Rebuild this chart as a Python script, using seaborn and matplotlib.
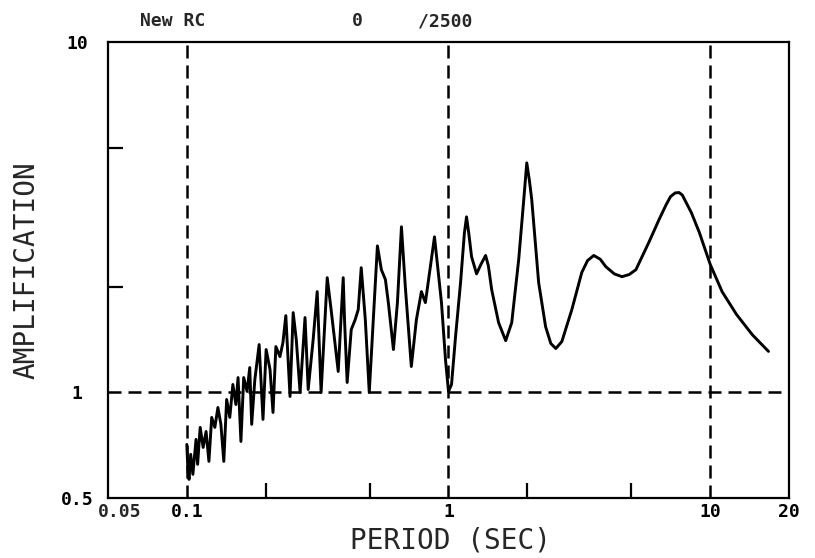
import matplotlib
matplotlib.use("Agg")
import matplotlib.pyplot as plt
import pandas as pd
import seaborn as sns
from matplotlib.ticker import FixedLocator, NullFormatter

# Site amplification spectrum (period in seconds)
period = [
    0.100, 0.101, 0.102, 0.1035, 0.1055, 0.1085, 0.110, 0.1125, 0.1155, 0.1185,
    0.1215, 0.1245, 0.128, 0.1315, 0.135, 0.1385, 0.142, 0.146, 0.150, 0.154,
    0.157, 0.161, 0.165, 0.170, 0.174, 0.177, 0.182, 0.189, 0.1955, 0.201,
    0.208, 0.2135, 0.219, 0.227, 0.233, 0.239, 0.248, 0.255, 0.262, 0.271,
    0.283, 0.291, 0.304, 0.315, 0.326, 0.344, 0.356, 0.379, 0.396, 0.401,
    0.410, 0.425, 0.440, 0.452, 0.464, 0.481, 0.498, 0.516, 0.535, 0.554,
    0.574, 0.589, 0.616, 0.638, 0.661, 0.684, 0.721, 0.754, 0.788, 0.816,
    0.884, 0.940, 0.974, 1.000, 1.027, 1.064, 1.112, 1.150, 1.172, 1.195,
    1.225, 1.280, 1.330, 1.386, 1.420, 1.462, 1.554, 1.654, 1.744, 1.854,
    1.939, 1.991, 2.04, 2.08, 2.21, 2.35, 2.46, 2.57, 2.71, 2.96,
    3.23, 3.40, 3.59, 3.80, 3.99, 4.30, 4.60, 4.90, 5.20, 5.84,
    6.37, 6.78, 7.05, 7.34, 7.60, 7.82, 8.47, 9.09, 10.0, 11.1,
    12.6, 14.5, 16.7,
]
amplification = [
    0.711, 0.603, 0.565, 0.666, 0.584, 0.735, 0.624, 0.795, 0.697, 0.774,
    0.636, 0.849, 0.795, 0.906, 0.811, 0.636, 0.955, 0.849, 1.054, 0.924,
    1.103, 0.725, 1.103, 1.007, 1.178, 0.811, 1.089, 1.370, 0.838, 1.326,
    1.163, 0.877, 1.352, 1.266, 1.388, 1.657, 0.974, 1.69, 1.416, 1.00,
    1.636, 1.02, 1.416, 1.94, 1.00, 2.126, 1.724, 1.148, 2.126, 1.582,
    1.068, 1.512, 1.614, 1.724, 2.27, 1.614, 1.00, 1.614, 2.62, 2.24,
    2.10, 1.805, 1.326, 1.805, 2.97, 2.00, 1.186, 1.614, 1.94, 1.805,
    2.78, 1.805, 1.24, 1.007, 1.054, 1.444, 2.06, 2.85, 3.17, 2.85,
    2.44, 2.18, 2.32, 2.46, 2.30, 1.966, 1.582, 1.406, 1.582, 2.39,
    3.55, 4.52, 4.00, 3.55, 2.06, 1.54, 1.38, 1.335, 1.397, 1.724,
    2.20, 2.38, 2.46, 2.40, 2.286, 2.18, 2.14, 2.17, 2.24, 2.69,
    3.11, 3.43, 3.62, 3.71, 3.72, 3.66, 3.26, 2.86, 2.32, 1.94,
    1.67, 1.46, 1.31,
]

x_limits = (0.05, 20)
y_limits = (0.5, 10)
x_label_ticks = [0.1, 1, 10, 20]
x_label_text = ["0.1", "1", "10", "20"]
y_label_ticks = [0.5, 1, 10]
y_label_text = ["0.5", "1", "10"]
x_minor_ticks = [0.2, 0.5, 2, 5]
y_minor_ticks = [2, 5]
x_reference = [0.1, 1, 10]
y_reference = [1]

sns.set_style("white")
plt.rcParams["font.family"] = ["DejaVu Sans Mono", "DejaVu Sans"]

W, H = 815, 558
PX = 72 / 100  # points per pixel at 100 dpi
fig = plt.figure(figsize=(W / 100, H / 100), dpi=100)
ax_l, ax_r, ax_t, ax_b = 108, 789, 42, 498
ax = fig.add_axes([ax_l / W, 1 - ax_b / H, (ax_r - ax_l) / W, (ax_b - ax_t) / H])

df = pd.DataFrame({"period": period, "amplification": amplification})
sns.lineplot(data=df, x="period", y="amplification", sort=False,
             estimator=None, color="black", linewidth=2.1, ax=ax)

ax.set_xscale("log")
ax.set_yscale("log")
ax.set_xlim(*x_limits)
ax.set_ylim(*y_limits)

dash = (5.2, 2.8)
for xv in x_reference:
    ax.axvline(xv, color="black", linewidth=1.8, dashes=dash, zorder=1)
for yv in y_reference:
    ax.axhline(yv, color="black", linewidth=1.8, dashes=dash, zorder=1)

for s in ax.spines.values():
    s.set_visible(True)
    s.set_color("black")
    s.set_linewidth(1.6)

ax.xaxis.set_major_locator(FixedLocator(x_label_ticks))
ax.set_xticklabels(x_label_text, fontweight="bold")
ax.yaxis.set_major_locator(FixedLocator(y_label_ticks))
ax.set_yticklabels(y_label_text, fontweight="bold")
ax.xaxis.set_minor_locator(FixedLocator(x_minor_ticks))
ax.yaxis.set_minor_locator(FixedLocator(y_minor_ticks))
ax.xaxis.set_minor_formatter(NullFormatter())
ax.yaxis.set_minor_formatter(NullFormatter())
ax.tick_params(which="major", length=0, labelsize=13, colors="black")
ax.tick_params(axis="x", which="major", pad=5 * PX)
ax.tick_params(axis="y", which="major", pad=31 * PX)
ax.tick_params(which="minor", direction="in", length=15 * PX, width=1.6,
               color="black", bottom=True, left=True, top=False, right=False)
for lbl in ax.get_yticklabels():
    lbl.set_horizontalalignment("center")

# left-corner period label sits just inside the frame
ax.annotate("0.05", xy=(x_limits[0], 0), xycoords=("data", "axes fraction"),
            xytext=(12, -5), textcoords="offset pixels",
            ha="center", va="top", fontsize=13, fontweight="bold")

ax.set_xlabel("PERIOD (SEC)", fontsize=20, va="center")
ax.set_ylabel("AMPLIFICATION", fontsize=20, va="center")
ax.xaxis.set_label_coords((450 - ax_l) / (ax_r - ax_l), -(540 - ax_b) / (ax_b - ax_t))
ax.yaxis.set_label_coords(-(ax_l - 26) / (ax_r - ax_l), 0.5)

fig.text(140 / W, 1 - 21 / H, "New RC", fontsize=13, ha="left", va="center",
         fontweight="bold")
fig.text(357 / W, 1 - 21 / H, "0", fontsize=13, ha="center", va="center",
         fontweight="bold")
fig.text(418 / W, 1 - 21 / H, "/2500", fontsize=13, ha="left", va="center",
         fontweight="bold")

fig.savefig("out.png", dpi=100)
